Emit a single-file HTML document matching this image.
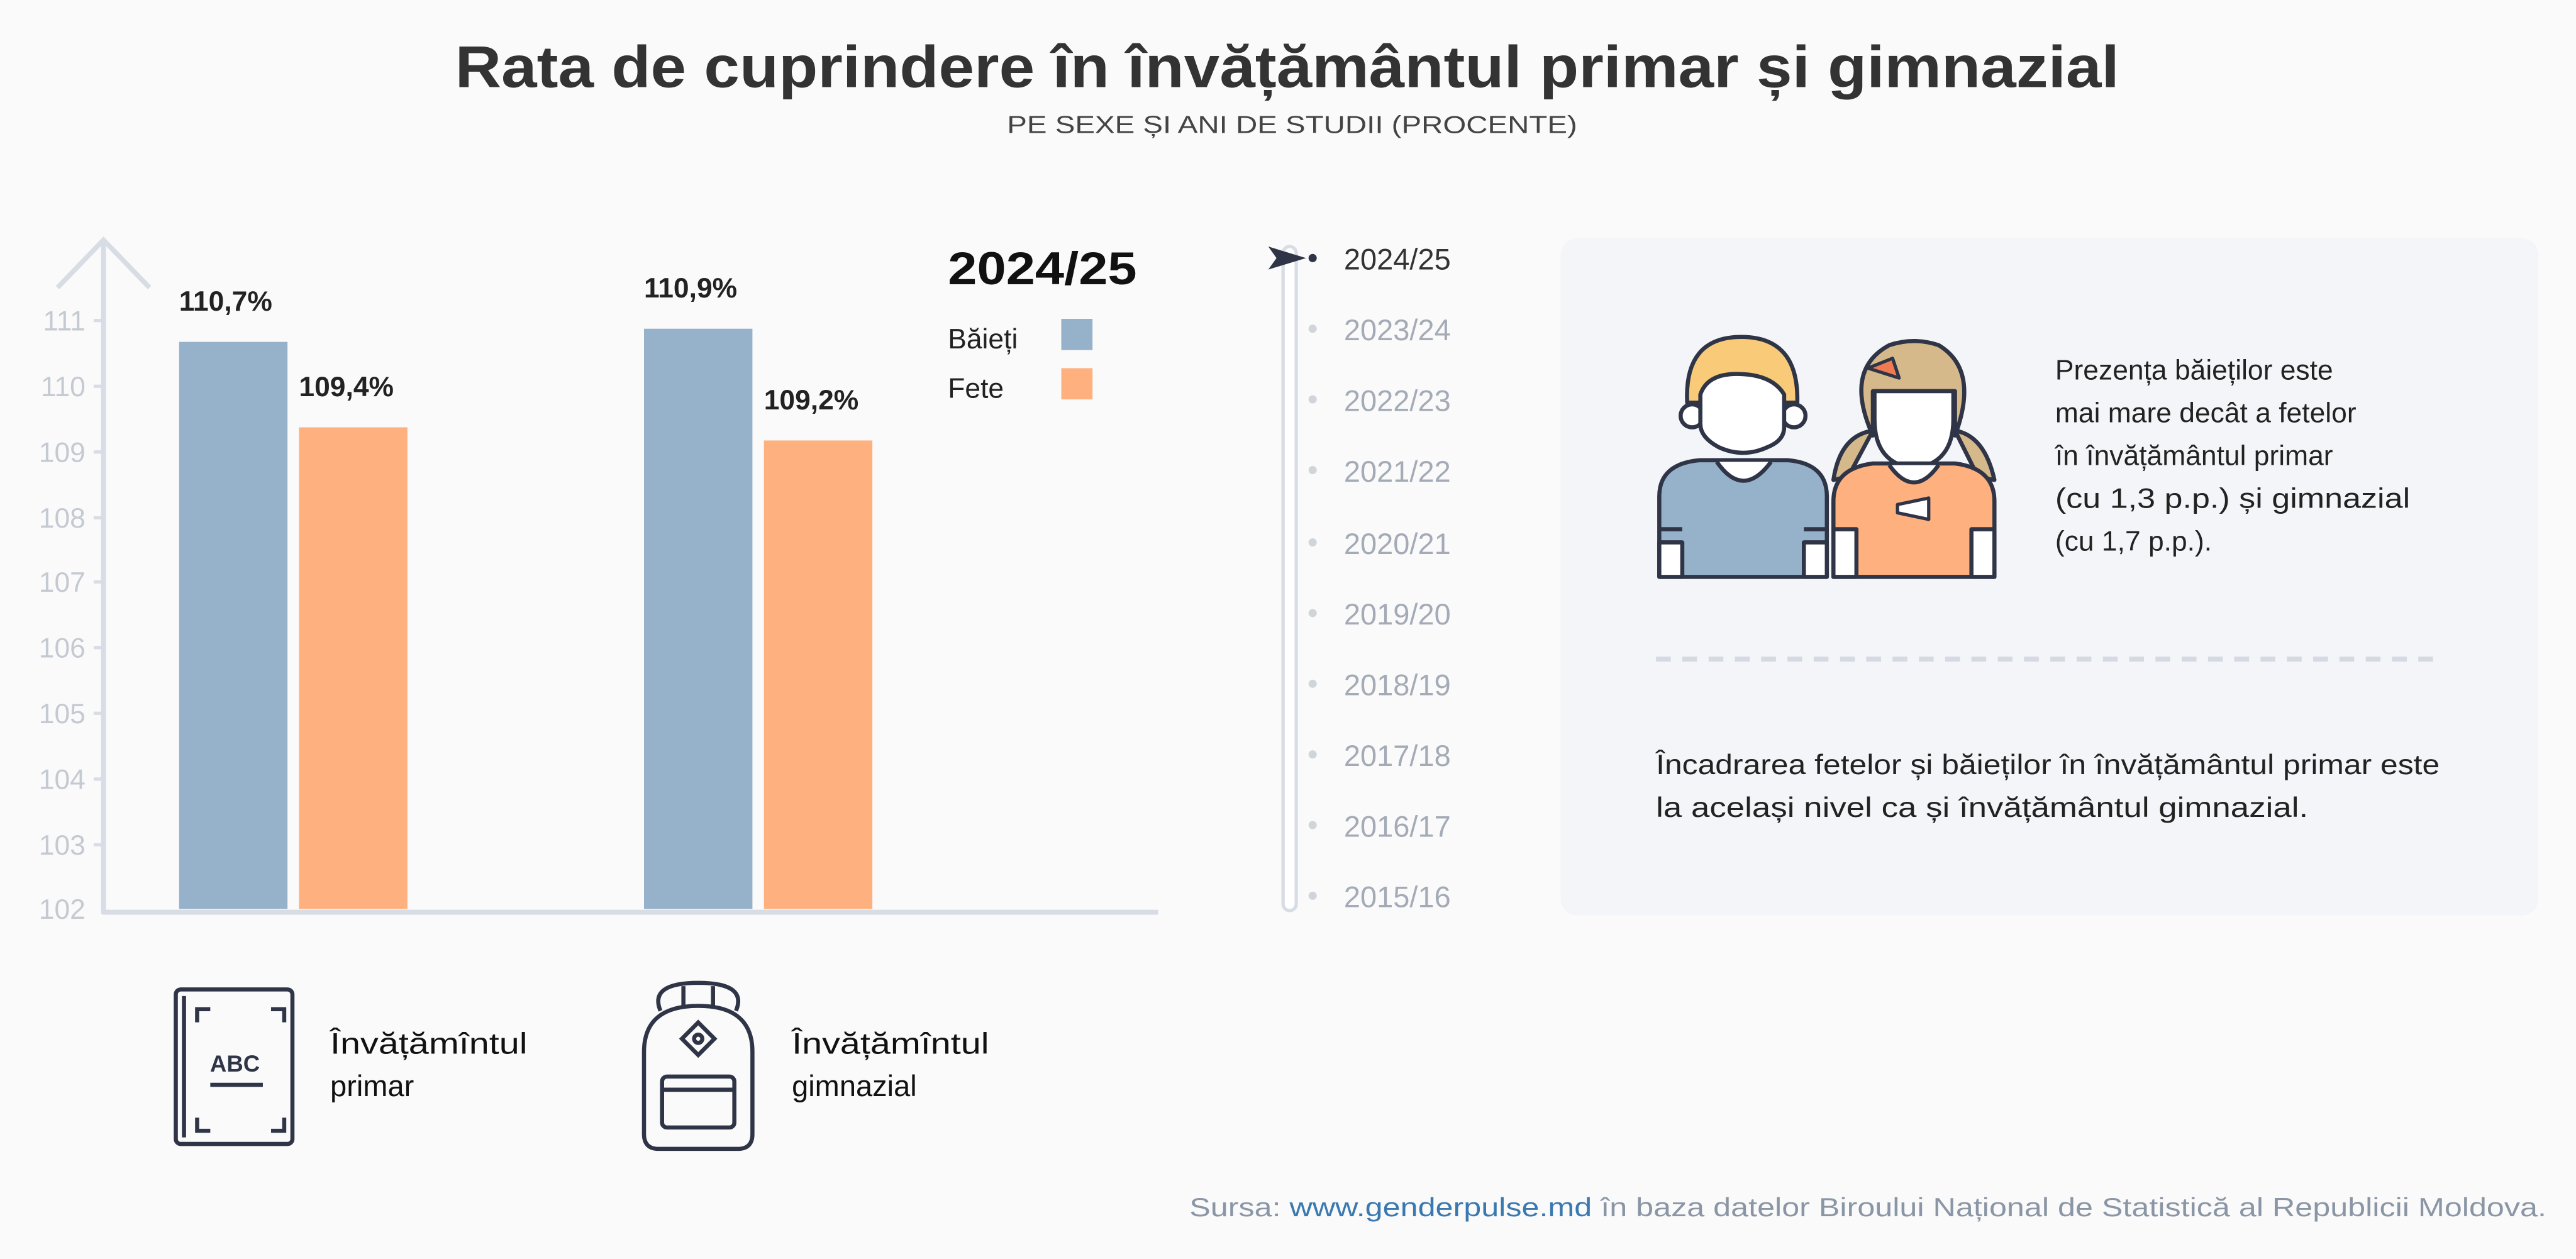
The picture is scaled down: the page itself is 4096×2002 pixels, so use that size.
<!DOCTYPE html>
<html><head><meta charset="utf-8"><style>
html,body{margin:0;padding:0;background:#fafafa;}
svg{display:block;font-family:"Liberation Sans",sans-serif;}
</style></head><body>
<svg width="4096" height="2002" viewBox="0 0 1568 766" preserveAspectRatio="none">
<rect width="1568" height="766" fill="#fafafa"/>
<text x="277" y="53" textLength="1013" lengthAdjust="spacingAndGlyphs" font-size="36" font-weight="bold" fill="#333">Rata de cuprindere în învățământul primar și gimnazial</text>
<text x="613" y="81" textLength="347" lengthAdjust="spacingAndGlyphs" font-size="15" fill="#444">PE SEXE ȘI ANI DE STUDII (PROCENTE)</text>
<!-- axis -->
<polyline points="35,175 63,146 91,175" fill="none" stroke="#d8dde5" stroke-width="3"/>
<line x1="63" y1="146" x2="63" y2="556" stroke="#d8dde5" stroke-width="3"/>
<line x1="62" y1="555" x2="705" y2="555" stroke="#d8dde5" stroke-width="3"/>
<g font-size="17" fill="#c5cad2" text-anchor="end">
<text x="52" y="201">111</text><text x="52" y="241">110</text><text x="52" y="281">109</text><text x="52" y="321">108</text><text x="52" y="360">107</text><text x="52" y="400">106</text><text x="52" y="440">105</text><text x="52" y="480">104</text><text x="52" y="520">103</text><text x="52" y="559">102</text>
</g>
<g stroke="#d8dde5" stroke-width="2">
<line x1="57" y1="195" x2="63" y2="195"/><line x1="57" y1="235" x2="63" y2="235"/><line x1="57" y1="275" x2="63" y2="275"/><line x1="57" y1="315" x2="63" y2="315"/><line x1="57" y1="354" x2="63" y2="354"/><line x1="57" y1="394" x2="63" y2="394"/><line x1="57" y1="434" x2="63" y2="434"/><line x1="57" y1="474" x2="63" y2="474"/><line x1="57" y1="514" x2="63" y2="514"/>
</g>
<rect x="109" y="208" width="66" height="345" fill="#96b2ca"/>
<rect x="182" y="260" width="66" height="293" fill="#ffb07f"/>
<rect x="392" y="200" width="66" height="353" fill="#96b2ca"/>
<rect x="465" y="268" width="66" height="285" fill="#ffb07f"/>
<g font-size="17" font-weight="bold" fill="#222">
<text x="109" y="189">110,7%</text><text x="182" y="241">109,4%</text><text x="392" y="181">110,9%</text><text x="465" y="249">109,2%</text>
</g>
<text x="577" y="173" font-size="28" font-weight="bold" fill="#111" textLength="115" lengthAdjust="spacingAndGlyphs">2024/25</text>
<text x="577" y="212" font-size="17" fill="#222">Băieți</text>
<rect x="646" y="194" width="19" height="19" fill="#96b2ca"/>
<text x="577" y="242" font-size="17" fill="#222">Fete</text>
<rect x="646" y="224" width="19" height="19" fill="#ffb07f"/>
<!-- timeline -->
<rect x="781" y="150" width="8" height="404" rx="4" fill="#fff" stroke="#d8dde5" stroke-width="2"/>
<path d="M772,150 L795,157 L772,164 L777,157 Z" fill="#2f3547"/>
<g font-size="18" fill="#a4abb6">
<circle cx="799" cy="157" r="2.5" fill="#2f3547"/><text x="818" y="164" fill="#333">2024/25</text>
<circle cx="799" cy="200" r="2.5" fill="#d0d5dc"/><text x="818" y="207">2023/24</text>
<circle cx="799" cy="243" r="2.5" fill="#d0d5dc"/><text x="818" y="250">2022/23</text>
<circle cx="799" cy="286" r="2.5" fill="#d0d5dc"/><text x="818" y="293">2021/22</text>
<circle cx="799" cy="330" r="2.5" fill="#d0d5dc"/><text x="818" y="337">2020/21</text>
<circle cx="799" cy="373" r="2.5" fill="#d0d5dc"/><text x="818" y="380">2019/20</text>
<circle cx="799" cy="416" r="2.5" fill="#d0d5dc"/><text x="818" y="423">2018/19</text>
<circle cx="799" cy="459" r="2.5" fill="#d0d5dc"/><text x="818" y="466">2017/18</text>
<circle cx="799" cy="502" r="2.5" fill="#d0d5dc"/><text x="818" y="509">2016/17</text>
<circle cx="799" cy="545" r="2.5" fill="#d0d5dc"/><text x="818" y="552">2015/16</text>
</g>
<!-- panel -->
<rect x="950" y="145" width="595" height="412" rx="10" fill="#f4f5f8"/>
<g font-size="17" fill="#222">
<text x="1251" y="231">Prezența băieților este</text>
<text x="1251" y="257">mai mare decât a fetelor</text>
<text x="1251" y="283">în învățământul primar</text>
<text x="1251" y="309" textLength="216" lengthAdjust="spacingAndGlyphs">(cu 1,3 p.p.) și gimnazial</text>
<text x="1251" y="335">(cu 1,7 p.p.).</text>
<text x="1008" y="471" textLength="477" lengthAdjust="spacingAndGlyphs">Încadrarea fetelor și băieților în învățământul primar este</text>
<text x="1008" y="497" textLength="397" lengthAdjust="spacingAndGlyphs">la același nivel ca și învățământul gimnazial.</text>
</g>
<line x1="1008" y1="401" x2="1487" y2="401" stroke="#d5dae2" stroke-width="3" stroke-dasharray="9,7"/>
<!-- kids -->
<g stroke="#2f3547" stroke-width="2.5" stroke-linejoin="round">
<path d="M1010,351 L1010,302 Q1010,282 1035,280 L1088,280 Q1112,282 1112,302 L1112,351 Z" fill="#96b2ca"/>
<path d="M1010,322 h14 M1010,330 h14 M1098,322 h14 M1098,330 h14" />
<path d="M1010,330 h14 v21 h-14z M1098,330 h14 v21 h-14z" fill="#fff"/>
<path d="M1045,281 Q1061,304 1078,281" fill="#fff"/>
<path d="M1027,245 Q1025,205 1060,205 Q1095,205 1094,245 Z" fill="#f9cb78"/>
<circle cx="1030" cy="253" r="7" fill="#fff"/><circle cx="1092" cy="253" r="7" fill="#fff"/>
<path d="M1035,240 Q1040,225 1065,228 Q1080,230 1086,240 L1086,260 Q1086,268 1076,272 Q1061,279 1046,272 Q1035,266 1035,258 Z" fill="#fff"/>
<path d="M1204,290 L1214,292 Q1208,265 1190,262 Z M1125,290 L1116,292 Q1120,265 1140,262 Z" fill="#d6b98b"/>
<path d="M1140,265 Q1122,225 1150,210 Q1165,205 1180,210 Q1205,225 1190,265 L1190,238 L1140,238 Z" fill="#d6b98b"/>
<path d="M1141,238 L1189,238 L1189,255 Q1189,282 1165,285 Q1141,282 1141,255 Z" fill="#fff"/>
<path d="M1116,351 L1116,305 Q1116,285 1140,282 L1190,282 Q1214,285 1214,305 L1214,351 Z" fill="#ffb07f"/>
<path d="M1116,322 h14 v29 h-14z M1200,322 h14 v29 h-14z" fill="#fff"/>
<path d="M1150,283 Q1165,304 1180,283" fill="#fff"/>
<path d="M1155,307 L1174,303 L1174,316 L1155,312 Z" fill="#fff" stroke-width="2"/>
<path d="M1137,224 L1152,218 L1156,230 Z" fill="#f07b52" stroke-width="2"/>
</g>
<!-- bottom icons -->
<g stroke="#2f3547" stroke-width="2.5" fill="none">
<rect x="107" y="602" width="71" height="94" rx="3"/>
<line x1="112" y1="606" x2="112" y2="692"/>
<path d="M120,622 v-8 h8 M165,614 h8 v8 M120,680 v8 h8 M165,688 h8 v-8"/>
<line x1="128" y1="660" x2="160" y2="660"/>
<path d="M402,615 Q395,598 425,598 Q455,598 448,615"/>
<path d="M416,600 v12 M434,600 v12"/>
<path d="M392,640 Q392,612 425,612 Q458,612 458,640 L458,690 Q458,699 449,699 L401,699 Q392,699 392,690 Z"/>
<rect x="403" y="655" width="44" height="31" rx="3"/>
<line x1="403" y1="663" x2="447" y2="663"/>
<rect x="418" y="625" width="14" height="14" transform="rotate(45 425 632)"/>
<circle cx="425" cy="632" r="2.5"/>
</g>
<text x="143" y="652" text-anchor="middle" font-size="14" font-weight="bold" fill="#2f3547">ABC</text>
<g font-size="18" fill="#111">
<text x="201" y="641" textLength="120" lengthAdjust="spacingAndGlyphs">Învățămîntul</text><text x="201" y="667">primar</text>
<text x="482" y="641" textLength="120" lengthAdjust="spacingAndGlyphs">Învățămîntul</text><text x="482" y="667">gimnazial</text>
</g>
<text x="724" y="740" textLength="826" lengthAdjust="spacingAndGlyphs" font-size="16" fill="#8a96a5">Sursa: <tspan fill="#3a78b0">www.genderpulse.md</tspan> în baza datelor Biroului Național de Statistică al Republicii Moldova.</text>
</svg>
</body></html>
